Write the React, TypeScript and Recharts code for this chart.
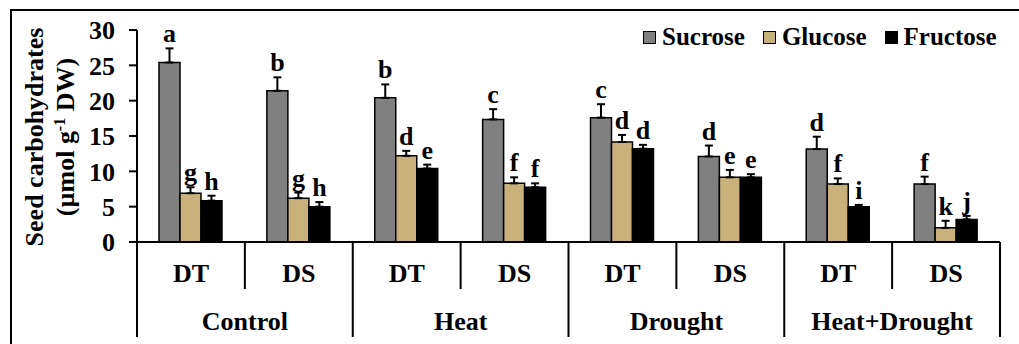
import { BarChart, Bar, XAxis, YAxis, ErrorBar } from 'recharts';

const categories = ['DT', 'DS', 'DT', 'DS', 'DT', 'DS', 'DT', 'DS'];
const groups = ['Control', 'Heat', 'Drought', 'Heat+Drought'];
const seriesNames = ['Sucrose', 'Glucose', 'Fructose'];
const yTicks = [0, 5, 10, 15, 20, 25, 30];

const sucrose = [25.4, 21.4, 20.4, 17.35, 17.6, 12.1, 13.15, 8.2];
const sucroseErr = [2.0, 1.9, 1.9, 1.45, 1.9, 1.55, 1.75, 1.05];
const sucroseLetters = ['a', 'b', 'b', 'c', 'c', 'd', 'd', 'f'];

const glucose = [6.9, 6.2, 12.2, 8.3, 14.15, 9.15, 8.2, 2.0];
const glucoseErr = [0.85, 0.8, 0.7, 0.85, 1.0, 1.05, 0.8, 1.0];
const glucoseLetters = ['g', 'g', 'd', 'f', 'd', 'e', 'f', 'k'];

const fructose = [5.85, 5.0, 10.4, 7.75, 13.2, 9.15, 5.0, 3.2];
const fructoseErr = [0.7, 0.65, 0.55, 0.55, 0.55, 0.45, 0.25, 0.5];
const fructoseLetters = ['h', 'h', 'e', 'f', 'd', 'e', 'i', 'j'];

const colors = ['#808080', '#c9b17c', '#000000'];
const FONT = '"Liberation Serif", "Times New Roman", serif';

const data = categories.map((c, i) => ({
  key: `${groups[Math.floor(i / 2)]}-${c}`,
  sucrose: sucrose[i],
  sucroseErr: [0, sucroseErr[i]],
  glucose: glucose[i],
  glucoseErr: [0, glucoseErr[i]],
  fructose: fructose[i],
  fructoseErr: [0, fructoseErr[i]],
}));

// letter sits above the error bar cap; px-per-unit taken from the bar itself
const letterLabel = (letters: string[], errs: number[]) => (p: any) => {
  const vb = p.viewBox && p.viewBox.height != null ? p.viewBox : p;
  const { x, y, width, height } = vb;
  const value = Number(p.value);
  const idx = p.index;
  if (!value || idx == null) return null;
  const top = y - errs[idx] * (height / value);
  return (
    <text
      x={x + width / 2}
      y={top - 6}
      textAnchor="middle"
      fontFamily={FONT}
      fontWeight="bold"
      fontSize={26}
      fill="#000"
    >
      {letters[idx]}
    </text>
  );
};

function CategoryTick(props: any) {
  const { x, y, payload, index } = props;
  const i = payload?.index ?? index;
  const half = payload?.offset || 53.9;
  const txt = { fontFamily: FONT, fontWeight: 'bold' as const, fontSize: 26, fill: '#000' };
  return (
    <g>
      {i === 0 && <line x1={x - half} x2={x - half} y1={y} y2={y + 95} stroke="#000" strokeWidth={2} />}
      <line
        x1={x + half}
        x2={x + half}
        y1={y}
        y2={i % 2 === 1 ? y + 95 : y + 47}
        stroke="#000"
        strokeWidth={2}
      />
      <text x={x} y={y + 40} textAnchor="middle" {...txt}>
        {categories[i]}
      </text>
      {i % 2 === 1 && (
        <text x={x - half} y={y + 88} textAnchor="middle" {...txt}>
          {groups[(i - 1) / 2]}
        </text>
      )}
    </g>
  );
}

function YLabel() {
  const txt = { fontFamily: FONT, fontWeight: 'bold' as const, fontSize: 26, fill: '#000' };
  return (
    <g>
      <text transform="translate(43,137) rotate(-90)" textAnchor="middle" {...txt}>
        Seed carbohydrates
      </text>
      <text transform="translate(74,137) rotate(-90)" textAnchor="middle" {...txt}>
        (µmol g
        <tspan dy={-9} fontSize={16}>-1</tspan>
        <tspan dy={9}> DW)</tspan>
      </text>
    </g>
  );
}

function LegendBox() {
  return (
    <div
      style={{
        position: 'absolute',
        left: 643,
        top: 24,
        display: 'flex',
        alignItems: 'center',
        fontFamily: FONT,
        fontWeight: 'bold',
        fontSize: 25,
        lineHeight: '26px',
        whiteSpace: 'nowrap',
      }}
    >
      {seriesNames.map((n, i) => (
        <div key={n} style={{ display: 'flex', alignItems: 'center', marginRight: 18 }}>
          <span
            style={{
              display: 'inline-block',
              width: 11,
              height: 11,
              background: colors[i],
              border: '1.5px solid #000',
              marginRight: 6,
            }}
          />
          <span>{n}</span>
        </div>
      ))}
    </div>
  );
}

export default function App() {
  return (
    <div style={{ position: 'absolute', left: 0, top: 0, width: 1019, height: 344, background: '#fff', overflow: 'hidden' }}>
      <div
        style={{
          position: 'absolute',
          left: 10,
          top: 9,
          width: 1009,
          height: 335,
          borderLeft: '2px solid #000',
          borderTop: '2px solid #000',
          boxSizing: 'border-box',
        }}
      />
      <div style={{ position: 'absolute', left: 0, top: 0 }}>
        <BarChart
          width={1019}
          height={344}
          data={data}
          margin={{ top: 30, right: 19, left: 0, bottom: 0 }}
          barSize={21}
          barGap={0}
        >
          <XAxis
            dataKey="key"
            height={102}
            axisLine={{ stroke: '#000', strokeWidth: 2 }}
            tickLine={false}
            tickSize={0}
            tickMargin={0}
            interval={0}
            tick={<CategoryTick />}
          />
          <YAxis
            width={137}
            domain={[0, 30]}
            ticks={yTicks}
            interval={0}
            axisLine={{ stroke: '#000', strokeWidth: 2 }}
            tickLine={{ stroke: '#000', strokeWidth: 2 }}
            tickSize={8}
            tickMargin={14}
            tick={{ fontFamily: FONT, fontWeight: 'bold', fontSize: 26, fill: '#000' }}
            label={<YLabel />}
          />
          <Bar dataKey="sucrose" fill={colors[0]} stroke="#000" strokeWidth={1.5} isAnimationActive={false} label={letterLabel(sucroseLetters, sucroseErr)}>
            <ErrorBar dataKey="sucroseErr" direction="y" width={4} stroke="#000" strokeWidth={2} />
          </Bar>
          <Bar dataKey="glucose" fill={colors[1]} stroke="#000" strokeWidth={1.5} isAnimationActive={false} label={letterLabel(glucoseLetters, glucoseErr)}>
            <ErrorBar dataKey="glucoseErr" direction="y" width={4} stroke="#000" strokeWidth={2} />
          </Bar>
          <Bar dataKey="fructose" fill={colors[2]} stroke="#000" strokeWidth={1.5} isAnimationActive={false} label={letterLabel(fructoseLetters, fructoseErr)}>
            <ErrorBar dataKey="fructoseErr" direction="y" width={4} stroke="#000" strokeWidth={2} />
          </Bar>
        </BarChart>
      </div>
      <LegendBox />
    </div>
  );
}
